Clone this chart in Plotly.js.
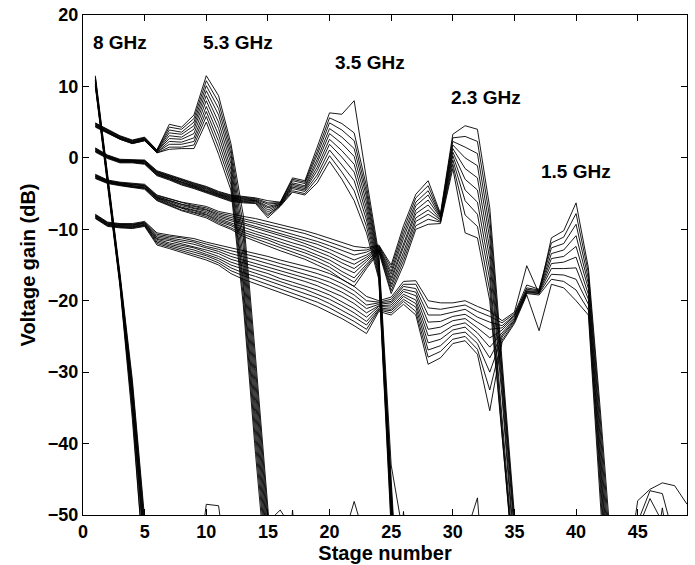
<!DOCTYPE html>
<html>
<head>
<meta charset="utf-8">
<script src="https://cdn.plot.ly/plotly-3.0.1.min.js"></script>
<style>html,body{margin:0;padding:0;background:#fff;}</style>
</head>
<body>
<div id="chart" style="width:695px;height:565px;"></div>
<script>
// Stage numbers (x values)
const stages = Array.from({length: 49}, (_, i) => i + 1);

// Frequency labels
const freqLabels = ['8 GHz', '5.3 GHz', '3.5 GHz', '2.3 GHz', '1.5 GHz'];

// Voltage gain (dB) per stage, one row per curve, for each frequency
const g8 = [
  [11.5,-2.3,-16.2,-31.0,-49.0,-70],
  [11.3,-2.5,-16.5,-31.6,-50.0,-71],
  [11.1,-2.6,-16.7,-32.2,-51.2,-72],
  [10.9,-2.8,-16.9,-32.7,-52.5,-73],
  [10.8,-2.9,-17.0,-33.2,-53.6,-74],
  [10.6,-3.0,-17.2,-33.8,-54.8,-75],
  [10.4,-3.2,-17.4,-34.3,-56.0,-76],
  [10.3,-3.3,-17.6,-34.9,-57.3,-77],
  [10.1,-3.4,-17.8,-35.5,-58.5,-78],
  [10.0,-3.6,-18.0,-36.5,-62.0,-80]
];

const g53 = [
  [4.9,4.0,3.1,2.5,2.9,1.1,4.7,4.3,6.0,11.5,8.7,2.0,-8.0,-28.0,-48.0,-70],
  [4.8,3.9,3.0,2.4,2.8,1.1,4.3,4.0,5.5,10.8,7.8,1.3,-9.5,-29.5,-50.0,-71],
  [4.8,3.9,3.0,2.4,2.8,1.0,3.9,3.6,5.0,10.1,6.9,0.6,-11.0,-31.0,-52.0,-72],
  [4.7,3.8,2.9,2.3,2.7,1.0,3.5,3.3,4.5,9.4,6.0,-0.1,-12.5,-32.5,-53.5,-73],
  [4.6,3.7,2.8,2.2,2.6,0.9,3.1,2.9,4.0,8.7,5.0,-0.8,-14.0,-34.0,-55.0,-74],
  [4.6,3.7,2.8,2.2,2.6,0.9,2.7,2.6,3.4,8.0,4.1,-1.6,-15.5,-35.5,-56.5,-75],
  [4.5,3.6,2.7,2.1,2.5,0.8,2.3,2.2,2.8,7.2,3.2,-2.3,-17.0,-37.0,-58.0,-76],
  [4.4,3.6,2.7,2.1,2.5,0.8,1.9,1.9,2.3,6.5,2.3,-3.0,-18.0,-38.5,-59.5,-77],
  [4.4,3.5,2.6,2.0,2.4,0.7,1.5,1.5,1.8,5.8,1.4,-3.7,-19.3,-40.0,-61.0,-78],
  [4.3,3.5,2.6,2.0,2.4,0.7,1.2,1.3,1.3,5.0,0.5,-4.5,-20.5,-41.5,-62.0,-80]
];

const g35 = [
  [1.4,0.4,-0.2,-0.2,-0.3,-1.8,-2.4,-3.0,-3.5,-4.0,-4.7,-5.2,-5.4,-5.6,-6.0,-6.2,-2.8,-3.2,1.5,6.3,6.1,8.0,-3.0,-13.5,-43,-53,-80],
  [1.3,0.3,-0.3,-0.3,-0.4,-1.9,-2.5,-3.1,-3.6,-4.1,-4.8,-5.3,-5.5,-5.7,-6.3,-6.3,-3.0,-3.4,0.9,5.6,4.8,3.5,-4.0,-14.0,-45,-75],
  [1.3,0.3,-0.3,-0.3,-0.4,-2.0,-2.6,-3.2,-3.7,-4.2,-4.9,-5.4,-5.6,-5.8,-6.5,-6.3,-3.2,-3.6,0.4,4.9,3.9,2.4,-4.8,-14.4,-46,-76],
  [1.2,0.2,-0.4,-0.4,-0.5,-2.0,-2.6,-3.3,-3.8,-4.3,-5.0,-5.5,-5.7,-5.9,-6.8,-6.4,-3.5,-3.9,-0.2,4.1,2.9,1.3,-5.5,-14.8,-47,-76],
  [1.1,0.2,-0.4,-0.4,-0.6,-2.1,-2.7,-3.4,-3.9,-4.4,-5.1,-5.6,-5.8,-6.0,-7.0,-6.5,-3.7,-4.1,-0.7,3.4,2.0,0.2,-6.3,-15.2,-47.5,-77],
  [1.1,0.1,-0.5,-0.5,-0.6,-2.2,-2.8,-3.4,-3.9,-4.5,-5.2,-5.7,-5.9,-6.0,-7.3,-6.5,-3.9,-4.3,-1.3,2.6,1.0,-0.9,-7.1,-15.6,-48,-77],
  [1.0,0.1,-0.5,-0.5,-0.7,-2.3,-2.9,-3.5,-4.0,-4.6,-5.3,-5.8,-6.0,-6.1,-7.6,-6.6,-4.1,-4.5,-1.8,1.9,0.1,-2.0,-7.9,-16.0,-49,-78],
  [0.9,0.0,-0.6,-0.6,-0.8,-2.3,-2.9,-3.6,-4.1,-4.7,-5.4,-5.9,-6.1,-6.2,-7.9,-6.7,-4.3,-4.7,-2.4,1.1,-1.0,-3.2,-8.7,-16.4,-50,-78],
  [0.9,0.0,-0.6,-0.6,-0.8,-2.4,-3.0,-3.7,-4.2,-4.8,-5.5,-6.0,-6.2,-6.3,-8.1,-6.7,-4.6,-5.0,-2.9,0.3,-2.0,-4.6,-9.6,-16.7,-51,-79],
  [0.8,-0.1,-0.7,-0.7,-0.9,-2.5,-3.1,-3.8,-4.3,-4.9,-5.6,-6.1,-6.3,-6.4,-8.4,-6.8,-4.8,-5.2,-3.5,-0.5,-3.0,-6.0,-10.5,-17.0,-52,-80]
];

const g23 = [
  [-2.3,-3.1,-3.4,-3.6,-3.7,-5.2,-5.7,-6.2,-6.5,-6.8,-7.5,-7.9,-8.2,-8.5,-8.9,-9.3,-9.7,-10.2,-10.7,-11.3,-11.9,-12.4,-12.6,-12.2,-15.0,-9.5,-5.1,-3.2,-7.8,3.3,4.5,4.0,-7.0,-28.0,-50.0,-75],
  [-2.4,-3.2,-3.5,-3.7,-3.8,-5.3,-5.8,-6.3,-6.7,-7.0,-7.7,-8.1,-8.5,-8.9,-9.3,-9.7,-10.1,-10.6,-11.2,-11.8,-12.5,-13.0,-12.9,-12.3,-15.4,-10.1,-5.6,-3.9,-8.0,2.8,3.0,2.3,-8.4,-29.1,-50.9,-76],
  [-2.4,-3.2,-3.5,-3.7,-3.9,-5.4,-5.9,-6.5,-6.8,-7.2,-7.9,-8.4,-8.8,-9.2,-9.7,-10.1,-10.6,-11.1,-11.7,-12.3,-13.0,-13.6,-13.2,-12.4,-15.9,-10.7,-6.2,-4.6,-8.1,2.3,1.5,0.6,-9.9,-30.2,-51.8,-76],
  [-2.5,-3.3,-3.6,-3.8,-3.9,-5.5,-6.0,-6.6,-7.0,-7.3,-8.1,-8.6,-9.1,-9.6,-10.0,-10.5,-11.0,-11.5,-12.1,-12.8,-13.6,-14.3,-13.6,-12.5,-16.3,-11.3,-6.7,-5.2,-8.3,1.8,0.0,-1.1,-11.3,-31.3,-52.7,-77],
  [-2.6,-3.3,-3.6,-3.9,-4.0,-5.6,-6.1,-6.7,-7.1,-7.5,-8.3,-8.8,-9.4,-9.9,-10.4,-10.9,-11.4,-12.0,-12.6,-13.3,-14.2,-14.9,-13.9,-12.6,-16.8,-11.9,-7.3,-5.9,-8.4,1.3,-1.5,-2.8,-12.8,-32.4,-53.6,-77],
  [-2.6,-3.4,-3.7,-3.9,-4.1,-5.6,-6.3,-6.9,-7.3,-7.7,-8.5,-9.1,-9.8,-10.3,-10.8,-11.4,-11.9,-12.4,-13.1,-13.8,-14.7,-15.5,-14.2,-12.7,-17.2,-12.6,-7.8,-6.6,-8.6,0.8,-3.0,-4.5,-14.2,-33.6,-54.4,-78],
  [-2.7,-3.4,-3.7,-4.0,-4.2,-5.7,-6.4,-7.0,-7.4,-7.9,-8.7,-9.3,-10.1,-10.6,-11.2,-11.8,-12.3,-12.9,-13.6,-14.3,-15.3,-16.1,-14.5,-12.8,-17.7,-13.2,-8.4,-7.3,-8.7,0.3,-4.5,-6.2,-15.7,-34.7,-55.3,-78],
  [-2.8,-3.5,-3.8,-4.1,-4.2,-5.8,-6.5,-7.1,-7.6,-8.0,-8.9,-9.5,-10.4,-11.0,-11.5,-12.2,-12.7,-13.3,-14.0,-14.8,-15.9,-16.8,-14.9,-12.9,-18.1,-13.8,-8.9,-7.9,-8.9,-0.3,-6.0,-7.9,-17.1,-35.8,-56.2,-79],
  [-2.8,-3.5,-3.8,-4.1,-4.3,-5.9,-6.6,-7.3,-7.7,-8.2,-9.1,-9.8,-10.7,-11.3,-11.9,-12.6,-13.2,-13.8,-14.5,-15.3,-16.4,-17.4,-15.2,-13.0,-18.6,-14.4,-9.5,-8.6,-9.0,-0.9,-8.0,-9.6,-18.6,-36.9,-57.1,-79],
  [-2.9,-3.6,-3.9,-4.2,-4.4,-6.0,-6.7,-7.4,-7.9,-8.4,-9.3,-10.0,-11.0,-11.7,-12.3,-13.0,-13.6,-14.2,-15.0,-15.8,-17.0,-18.0,-15.5,-13.2,-19.0,-15.0,-10.0,-9.3,-9.2,-1.5,-10.5,-11.2,-20.0,-38.0,-58.0,-80]
];

const g15 = [
  [-7.9,-9.0,-9.2,-9.2,-8.9,-10.5,-10.8,-11.0,-11.3,-11.8,-12.2,-12.6,-12.9,-13.3,-13.8,-14.3,-14.7,-15.1,-15.6,-16.2,-17.0,-18.0,-19.4,-20.0,-19.5,-17.3,-17.2,-20.0,-20.3,-20.3,-20.0,-20.8,-21.5,-22.8,-21.6,-15.1,-19.0,-11.2,-10.2,-6.3,-15.4,-36,-58],
  [-8.0,-9.1,-9.3,-9.3,-9.0,-10.7,-11.0,-11.2,-11.6,-12.1,-12.5,-13.0,-13.4,-13.8,-14.3,-14.8,-15.2,-15.7,-16.2,-16.8,-17.6,-18.6,-20.0,-20.2,-19.8,-17.7,-17.7,-21.0,-21.2,-20.9,-20.6,-21.5,-22.2,-23.1,-21.8,-17.8,-18.4,-11.9,-11.1,-7.8,-16.1,-37.4,-60],
  [-8.0,-9.1,-9.3,-9.4,-9.1,-10.9,-11.2,-11.5,-11.8,-12.4,-12.8,-13.4,-13.8,-14.3,-14.8,-15.3,-15.8,-16.2,-16.8,-17.4,-18.2,-19.2,-20.6,-20.3,-20.1,-18.0,-18.3,-22.0,-22.0,-21.6,-21.2,-22.3,-23.0,-23.5,-22.0,-18.2,-18.5,-12.6,-12.0,-9.3,-16.9,-38.9,-62],
  [-8.1,-9.2,-9.4,-9.4,-9.1,-11.1,-11.4,-11.7,-12.1,-12.6,-13.1,-13.8,-14.3,-14.7,-15.3,-15.8,-16.3,-16.8,-17.3,-18.0,-18.8,-19.8,-21.1,-20.5,-20.3,-18.4,-18.8,-23.0,-22.9,-22.2,-21.9,-23.0,-24.0,-23.8,-22.1,-18.4,-18.6,-13.4,-12.9,-10.9,-17.6,-40.3,-64],
  [-8.2,-9.3,-9.5,-9.5,-9.2,-11.3,-11.6,-12.0,-12.4,-12.9,-13.4,-14.2,-14.7,-15.2,-15.8,-16.3,-16.8,-17.3,-17.9,-18.6,-19.4,-20.4,-21.7,-20.7,-20.6,-18.7,-19.3,-24.0,-23.7,-22.8,-22.5,-23.8,-25.2,-24.1,-22.3,-18.6,-18.7,-14.1,-13.8,-12.4,-18.3,-41.8,-66],
  [-8.2,-9.3,-9.5,-9.6,-9.3,-11.4,-11.9,-12.2,-12.6,-13.2,-13.8,-14.6,-15.2,-15.7,-16.2,-16.9,-17.4,-17.9,-18.5,-19.2,-20.1,-21.1,-22.3,-20.8,-20.9,-19.1,-19.9,-24.9,-24.6,-23.5,-23.1,-24.5,-26.5,-24.5,-22.5,-18.7,-18.8,-14.8,-14.6,-13.9,-19.1,-43.2,-67],
  [-8.3,-9.4,-9.6,-9.7,-9.4,-11.6,-12.1,-12.5,-12.9,-13.5,-14.1,-15.0,-15.6,-16.2,-16.7,-17.4,-17.9,-18.4,-19.1,-19.8,-20.7,-21.7,-22.9,-21.0,-21.2,-19.4,-20.4,-25.9,-25.4,-24.1,-23.7,-25.3,-28.0,-24.8,-22.7,-18.8,-18.9,-15.5,-15.5,-15.4,-19.8,-44.7,-69],
  [-8.4,-9.5,-9.7,-9.7,-9.4,-11.8,-12.3,-12.7,-13.2,-13.7,-14.4,-15.4,-16.1,-16.6,-17.2,-17.9,-18.4,-19.0,-19.6,-20.4,-21.3,-22.3,-23.4,-21.2,-21.4,-19.8,-20.9,-26.9,-26.3,-24.7,-24.4,-26.0,-30.0,-25.1,-22.8,-18.9,-19.0,-16.3,-16.4,-17.0,-20.5,-46.1,-71],
  [-8.4,-9.5,-9.7,-9.8,-9.5,-12.0,-12.5,-13.0,-13.4,-14.0,-14.7,-15.8,-16.5,-17.1,-17.7,-18.4,-19.0,-19.5,-20.2,-21.0,-21.9,-22.9,-24.0,-21.3,-21.7,-20.1,-21.5,-27.9,-27.1,-25.4,-25.0,-26.8,-32.5,-25.5,-23.0,-19.0,-19.2,-17.0,-17.3,-18.5,-21.3,-47.6,-73],
  [-8.5,-9.6,-9.8,-9.9,-9.6,-12.2,-12.7,-13.2,-13.7,-14.3,-15.0,-16.2,-17.0,-17.6,-18.2,-18.9,-19.5,-20.1,-20.8,-21.6,-22.5,-23.5,-24.6,-21.5,-22.0,-20.5,-22.0,-28.9,-28.0,-26.0,-25.6,-27.5,-35.4,-25.8,-23.2,-19.2,-24.2,-17.7,-18.2,-20.0,-22.0,-49,-75]
];

// Small residual bumps just above the -50 dB floor (stage lists and values)
const floorStages = [
  [9,10,11,12], [15,16,17], [16,17,18], [21,22,23], [25,26,27],
  [31,32,33], [44,45,46,47,48,49], [45,46,47,48], [45,46,47], [46,47,48]
];
const floorValues = [
  [-62,-48.5,-48.7,-62], [-51,-49.3,-52], [-70,-49.3,-70], [-54,-48.1,-54], [-70,-49.5,-70],
  [-53,-47.6,-70], [-60,-48,-46.4,-45.5,-45.9,-48.5], [-51,-46.6,-47.0,-53.5], [-52,-47.7,-51], [-60,-49,-60]
];

const xTicks = [0,5,10,15,20,25,30,35,40,45];
const yTicks = [-50,-40,-30,-20,-10,0,10,20];

// Label placement (layout, not data)
const labelPos = [[3.0,16.2],[12.6,16.2],[23.3,13.4],[32.7,8.5],[40.0,-1.9]];

const FONT = 'Liberation Sans, Arial, Helvetica, sans-serif';
const lineStyle = {color: '#000', width: 0.9};

const traces = [];
[g8, g53, g35, g23, g15].forEach(group => {
  group.forEach(vals => {
    traces.push({
      x: stages.slice(0, vals.length), y: vals,
      type: 'scatter', mode: 'lines', line: lineStyle, hoverinfo: 'skip'
    });
  });
});
floorStages.forEach((xs, i) => {
  traces.push({x: xs, y: floorValues[i], type: 'scatter', mode: 'lines', line: lineStyle, hoverinfo: 'skip'});
});

const annotations = freqLabels.map((t, i) => ({
  x: labelPos[i][0], y: labelPos[i][1], xref: 'x', yref: 'y',
  text: t, showarrow: false,
  font: {family: FONT, size: 19, color: '#000', weight: 'bold'}
}));

const axisCommon = {
  ticks: 'inside', ticklen: 6, tickwidth: 1, tickcolor: '#000',
  showline: true, linecolor: '#000', linewidth: 1, mirror: 'ticks',
  showgrid: false, zeroline: false,
  tickfont: {family: FONT, size: 18, color: '#000', weight: 'bold'}
};

const layout = {
  width: 695, height: 565,
  margin: {l: 83, r: 8, t: 15, b: 50},
  paper_bgcolor: '#fff', plot_bgcolor: '#fff',
  showlegend: false,
  xaxis: Object.assign({}, axisCommon, {
    range: [0, 49], tickvals: xTicks, automargin: false,
    title: {text: 'Stage number', font: {family: FONT, size: 20, color: '#000', weight: 'bold'}, standoff: 4}
  }),
  yaxis: Object.assign({}, axisCommon, {
    range: [-50, 20], tickvals: yTicks, automargin: false,
    title: {text: 'Voltage gain (dB)', font: {family: FONT, size: 20, color: '#000', weight: 'bold'}, standoff: 6}
  }),
  annotations: annotations
};

Plotly.newPlot('chart', traces, layout, {staticPlot: true, displayModeBar: false});
</script>
</body>
</html>
